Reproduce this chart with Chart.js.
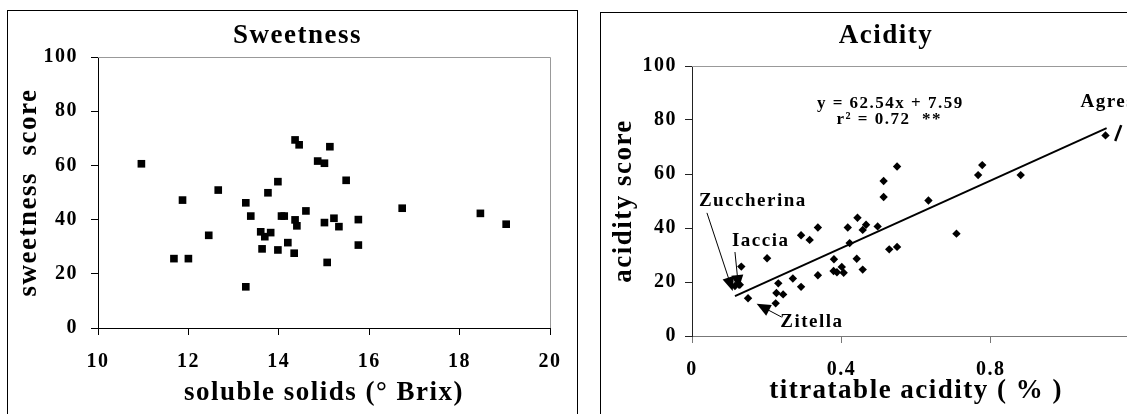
<!DOCTYPE html>
<html>
<head>
<meta charset="utf-8">
<script src="https://cdn.jsdelivr.net/npm/chart.js@4.4.1/dist/chart.umd.min.js"></script>
<style>
  html, body { margin: 0; padding: 0; background: #fff; width: 1127px; height: 414px; overflow: hidden; }
  .frame { position: absolute; border: 1px solid #000; background: #fff; }
  #sweet-box { left: 7px; top: 10px; width: 569px; height: 410px; }
  #acid-box { left: 600px; top: 12px; width: 569px; height: 410px; }
  canvas { display: block; }
</style>
</head>
<body>
<div class="frame" id="sweet-box"><canvas id="sweet-chart" width="569" height="410"></canvas></div>
<div class="frame" id="acid-box"><canvas id="acid-chart" width="569" height="410"></canvas></div>
<script>
// Sweetness vs soluble solids
const brix = [10.96, 11.68, 11.87, 12.0, 12.45, 12.66, 13.27, 13.27, 13.38, 13.6, 13.63, 13.69, 13.76, 13.82, 13.98, 13.98, 14.06, 14.12, 14.2, 14.34, 14.36, 14.4, 14.36, 14.45, 14.6, 14.86, 15.01, 15.13, 15.01, 15.22, 15.33, 15.49, 15.76, 15.76, 15.07, 16.73, 18.46, 19.03];
const sweetness = [60.6, 25.6, 47.2, 25.6, 34.2, 50.9, 46.2, 15.2, 41.3, 35.5, 29.2, 33.7, 49.9, 35.2, 54.0, 28.8, 41.3, 41.3, 31.5, 27.6, 39.9, 37.7, 69.4, 67.6, 43.2, 61.6, 60.8, 66.9, 38.9, 40.5, 37.4, 54.5, 40.0, 30.6, 24.2, 44.2, 42.3, 38.3];
const brixTicks = [10, 12, 14, 16, 18, 20];
const scoreTicks = [0, 20, 40, 60, 80, 100];

// Acidity vs titratable acidity
const titAcidity = [0.115, 0.128, 0.132, 0.150, 0.201, 0.224, 0.226, 0.231, 0.244, 0.270, 0.292, 0.292, 0.315, 0.337, 0.337, 0.379, 0.380, 0.388, 0.401, 0.406, 0.417, 0.422, 0.441, 0.443, 0.457, 0.457, 0.466, 0.497, 0.513, 0.513, 0.528, 0.549, 0.549, 0.633, 0.708, 0.766, 0.777, 0.880, 1.107];
const acidScore = [18.5, 19.0, 25.7, 14.0, 28.8, 12.1, 15.9, 19.5, 15.4, 21.3, 18.2, 37.3, 35.6, 40.2, 22.5, 24.1, 28.4, 23.6, 25.6, 23.4, 40.2, 34.4, 28.6, 43.8, 39.3, 24.6, 41.2, 40.6, 57.4, 51.5, 32.1, 62.8, 33.0, 50.2, 37.9, 59.6, 63.3, 59.6, 74.3];
const acidTicks = [0, 0.4, 0.8, 1.2];
// regression y = 62.54x + 7.59, ends
const trendX = [0.115, 1.11];
const trendY = [14.8, 77.0];

// cultivar callouts (data units)
const cultivars = ['Zuccherina', 'Iaccia', 'Zitella', 'Agresta'];
const cultivarAt = [[0.163, 49.8], [0.184, 35.2], [0.321, 5.2], [1.04, 86.7]];
const arrowFrom = [[0.040, 45.6], [0.115, 31.1], [0.240, 7.0], [1.149, 78.1]];
const arrowTo = [[0.109, 16.7], [0.125, 17.4], [0.173, 11.9], [1.133, 72.2]];

Chart.defaults.font.family = '"Liberation Serif", "Times New Roman", serif';
Chart.defaults.font.weight = 'bold';
Chart.defaults.color = '#000';

const toPoints = (xs, ys) => xs.map((x, i) => ({ x: x, y: ys[i] }));
const fixTicks = list => scale => { scale.ticks = list.map(v => ({ value: v })); };

const spacing = {
	id: 'spacing',
	beforeLayout(chart, args, opts) { chart.ctx.letterSpacing = opts.value; },
	beforeDraw(chart, args, opts) { chart.ctx.letterSpacing = opts.value; },
};

// grey top + right edge of the plot area, Excel style
const plotFrame = {
	id: 'plotFrame',
	beforeDatasetsDraw(chart, args, opts) {
		const { ctx, chartArea: a } = chart;
		ctx.save();
		ctx.strokeStyle = opts.color;
		ctx.lineWidth = 1;
		ctx.beginPath();
		ctx.moveTo(a.left, Math.round(a.top) + 0.5);
		ctx.lineTo(Math.round(a.right) + 0.5, Math.round(a.top) + 0.5);
		ctx.lineTo(Math.round(a.right) + 0.5, a.bottom);
		ctx.stroke();
		ctx.restore();
	},
};

const callouts = {
	id: 'callouts',
	afterDatasetsDraw(chart, args, opts) {
		if (!opts.items) return;
		const { ctx, scales: { x, y } } = chart;
		ctx.save();
		ctx.fillStyle = '#000';
		ctx.strokeStyle = '#000';
		opts.arrows.forEach(a => {
			const x0 = x.getPixelForValue(a.from[0]), y0 = y.getPixelForValue(a.from[1]);
			const x1 = x.getPixelForValue(a.to[0]), y1 = y.getPixelForValue(a.to[1]);
			const ang = Math.atan2(y1 - y0, x1 - x0);
			const len = 14, half = 6;
			const cut = a.head ? len * 0.8 : 0;
			ctx.lineWidth = a.width || 1;
			ctx.beginPath();
			ctx.moveTo(x0, y0);
			ctx.lineTo(x1 - Math.cos(ang) * cut, y1 - Math.sin(ang) * cut);
			ctx.stroke();
			if (!a.head) return;
			ctx.beginPath();
			ctx.moveTo(x1, y1);
			ctx.lineTo(x1 - Math.cos(ang) * len - Math.sin(ang) * half, y1 - Math.sin(ang) * len + Math.cos(ang) * half);
			ctx.lineTo(x1 - Math.cos(ang) * len + Math.sin(ang) * half, y1 - Math.sin(ang) * len - Math.cos(ang) * half);
			ctx.closePath();
			ctx.fill();
		});
		ctx.textBaseline = 'middle';
		opts.items.forEach(t => {
			ctx.font = t.font;
			ctx.textAlign = t.align || 'center';
			ctx.fillText(t.text, x.getPixelForValue(t.x), y.getPixelForValue(t.y));
		});
		ctx.restore();
	},
};

function axis(cfg) {
	return {
		type: 'linear',
		min: cfg.min,
		max: cfg.max,
		afterBuildTicks: fixTicks(cfg.ticks),
		afterFit: scale => {
			if (cfg.width) scale.width = cfg.width;
			if (cfg.height) scale.height = cfg.height;
		},
		grid: { drawOnChartArea: false, drawTicks: true, tickLength: 7, color: cfg.color, tickColor: cfg.color },
		border: { display: true, color: cfg.color, width: 1 },
		ticks: {
			padding: cfg.pad,
			font: { size: 20, weight: 'bold' },
			callback: cfg.format || (v => v),
		},
		title: {
			display: true,
			text: cfg.title,
			font: { size: 27, weight: 'bold' },
			padding: cfg.titlePad,
		},
	};
}

function sweetCharts() {
	const sweetConfig = {
		type: 'scatter',
		data: {
			datasets: [{
				data: toPoints(brix, sweetness),
				pointStyle: 'rect',
				pointRadius: 5.4,
				pointBackgroundColor: '#000',
				pointBorderWidth: 0,
			}],
		},
		options: {
			responsive: false,
			animation: false,
			layout: { padding: { left: 37, right: 27, top: 0, bottom: 0 } },
			plugins: {
				legend: { display: false },
				tooltip: { enabled: false },
				title: {
					display: true,
					text: 'Sweetness',
					font: { size: 27, weight: 'bold' },
					padding: { top: 8.8, bottom: 4.8 },
				},
				spacing: { value: '1.5px' },
				plotFrame: { color: '#999' },
			},
			scales: {
				x: axis({ min: 10, max: 20, ticks: brixTicks, height: 93, color: '#000', pad: 14.5,
					title: 'soluble solids (° Brix)', titlePad: { top: 0, bottom: 11.8 } }),
				y: axis({ min: 0, max: 100, ticks: scoreTicks, width: 53, color: '#000', pad: 13,
					title: 'sweetness  score', titlePad: { top: -32.2, bottom: 0 } }),
			},
		},
		plugins: [spacing, plotFrame],
	};

	const acidConfig = {
		type: 'scatter',
		data: {
			datasets: [{
				data: toPoints(trendX, trendY),
				showLine: true,
				borderColor: '#000',
				borderWidth: 2,
				pointRadius: 0,
			}, {
				data: toPoints(titAcidity, acidScore),
				pointStyle: 'rectRot',
				pointRadius: 4.2,
				pointBackgroundColor: '#000',
				pointBorderWidth: 0,
			}],
		},
		options: {
			responsive: false,
			animation: false,
			layout: { padding: { left: 29, right: 28, top: 0, bottom: 0 } },
			plugins: {
				legend: { display: false },
				tooltip: { enabled: false },
				title: {
					display: true,
					text: 'Acidity',
					font: { size: 27, weight: 'bold' },
					padding: { top: 6.8, bottom: 13.8 },
				},
				spacing: { value: '1.5px' },
				plotFrame: { color: '#999' },
				callouts: {
					arrows: cultivars.map((c, i) => ({
						from: arrowFrom[i], to: arrowTo[i], width: i === 3 ? 2.5 : 1, head: i !== 3,
					})),
					items: cultivars.map((c, i) => ({
						text: c, x: cultivarAt[i][0], y: cultivarAt[i][1],
						font: 'bold 19px "Liberation Serif", serif', align: i === 3 ? 'left' : 'center',
					})).concat([
						{ text: 'y = 62.54x + 7.59', x: 0.531, y: 85.9, font: 'bold 17px "Liberation Serif", serif' },
						{ text: 'r² = 0.72  **', x: 0.528, y: 80.0, font: 'bold 17px "Liberation Serif", serif' },
					]),
				},
			},
			scales: {
				x: axis({ min: 0, max: 1.2, ticks: acidTicks, height: 87, color: '#777', pad: 15,
					format: v => (v === 0 ? '0' : v.toFixed(1)),
					title: 'titratable acidity ( % )', titlePad: { top: 0, bottom: 15.3 } }),
				y: axis({ min: 0, max: 100, ticks: scoreTicks, width: 62, color: '#222', pad: 8,
					title: 'acidity score', titlePad: { top: -22.2, bottom: 0 } }),
			},
		},
		plugins: [spacing, plotFrame, callouts],
	};

	return {
		sweet: new Chart(document.getElementById('sweet-chart'), sweetConfig),
		acid: new Chart(document.getElementById('acid-chart'), acidConfig),
	};
}

sweetCharts();
</script>
</body>
</html>
